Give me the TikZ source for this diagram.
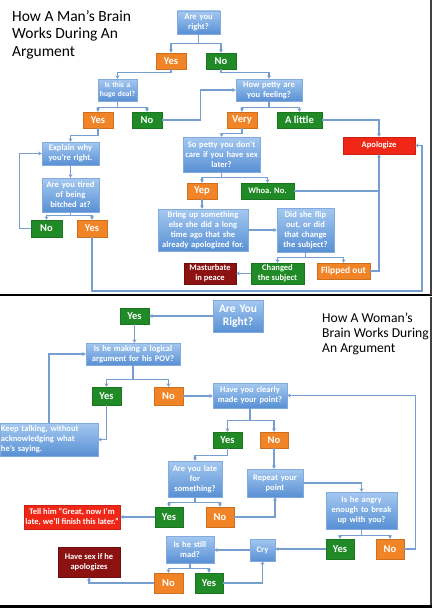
\documentclass[tikz,border=0pt]{standalone}
\usepackage{fontspec}
\setmainfont{Carlito}
\usepackage{tikz}
\usetikzlibrary{arrows.meta, positioning}
\definecolor{boxtop}{RGB}{164,200,240}
\definecolor{boxbot}{RGB}{88,144,212}
\definecolor{boxedge}{RGB}{130,170,220}
\definecolor{ansorange}{RGB}{240,132,38}
\definecolor{ansgreen}{RGB}{32,138,38}
\definecolor{ansred}{RGB}{240,38,22}
\definecolor{ansdark}{RGB}{140,18,18}
\definecolor{linkblue}{RGB}{118,158,208}
\tikzset{
  qbox/.style={draw=boxedge, top color=boxtop, bottom color=boxbot, text=white, align=center,
    inner xsep=1pt, inner ysep=1pt, font=\bfseries\fontsize{8.5}{10}\selectfont},
  ansbox/.style={text=white, inner sep=0pt, align=center, font=\bfseries\fontsize{10.5}{12}\selectfont},
  orangebox/.style={ansbox, fill=ansorange, draw=ansorange!85!black},
  greenbox/.style={ansbox, fill=ansgreen, draw=ansgreen!85!black},
  redbox/.style={ansbox, fill=ansred, draw=ansred!85!black},
  darkbox/.style={ansbox, fill=ansdark, draw=ansdark!80!black},
  small/.style={font=\bfseries\fontsize{8.5}{10}\selectfont},
  link/.style={draw=linkblue, line width=1.3pt, -{Stealth[length=3.5pt,width=4pt]}},
  bar/.style={draw=linkblue, line width=1.3pt},
}
\begin{document}
\begin{tikzpicture}[x=1pt, y=-1pt]
            \useasboundingbox (0,0) rectangle (436,610);
            \fill[white] (0,0) rectangle (436,610); %背景
            % 男
            \node[anchor=north west, align=left, inner sep=0pt, font=\fontsize{15.5}{17.5}\selectfont] (mantitle) at (12,10) {How A Man’s Brain\\Works During An\\Argument};
            \node[qbox, text width=41pt, minimum height=23pt] (q1) at (198.5,22.5) {Are you\\right?};
            \node[orangebox, minimum width=30pt, minimum height=16pt] (y1) at (171,61) {Yes};
            \node[greenbox, minimum width=30pt, minimum height=16pt] (n1) at (221,61) {No};
            \node[qbox, font=\bfseries\fontsize{7.6}{9.5}\selectfont, text width=37pt, minimum height=22pt] (q2) at (117.5,90) {Is this a\\huge deal?};
            \node[qbox, text width=64pt, minimum height=22pt] (q3) at (269,90) {How petty are\\you feeling?};
            \node[orangebox, minimum width=30pt, minimum height=16pt] (y2) at (98,120) {Yes};
            \node[greenbox, minimum width=30pt, minimum height=16pt] (n2) at (147,120) {No};
            \node[orangebox, minimum width=30pt, minimum height=16pt] (v1) at (242,120) {Very};
            \node[greenbox, minimum width=45pt, minimum height=16pt] (a1) at (299.5,120) {A little};
            \node[redbox, small, minimum width=72pt, minimum height=17pt] (ap) at (379,145.5) {Apologize};
            \node[qbox, text width=55pt, minimum height=23pt] (q4) at (70.5,153.5) {Explain why\\you’re right.};
            \node[qbox, text width=55pt, minimum height=34pt] (q5) at (70.5,195) {Are you tired\\of being\\bitched at?};
            \node[greenbox, minimum width=31pt, minimum height=17pt] (n3) at (46.5,228.5) {No};
            \node[orangebox, minimum width=30pt, minimum height=17pt] (y3) at (92,228.5) {Yes};
            \node[qbox, text width=75pt, minimum height=35pt] (q6) at (221.5,154.5) {So petty you don’t\\care if you have sex\\later?};
            \node[orangebox, minimum width=30pt, minimum height=16pt] (yp) at (202,191) {Yep};
            \node[greenbox, small, minimum width=53pt, minimum height=16pt] (wn) at (267.5,191) {Whoa. No.};
            \node[qbox, text width=88pt, minimum height=42pt] (q7) at (203,230) {Bring up something\\else she did a long\\time ago that she\\already apologized for.};
            \node[qbox, text width=55pt, minimum height=44pt] (q8) at (305.5,230) {Did she flip\\out, or did\\that change\\the subject?};
            \node[greenbox, small, minimum width=53pt, minimum height=21pt] (cs) at (277.5,273.5) {Changed\\the subject};
            \node[orangebox, font=\bfseries\fontsize{9.5}{11}\selectfont, minimum width=53pt, minimum height=16pt] (fo) at (343.5,271) {Flipped out};
            \node[darkbox, small, minimum width=52pt, minimum height=21pt] (mp) at (210,273.5) {Masturbate\\in peace};
            \draw[link] (q1.south) -- ++(0,9) -| (y1.north);
            \draw[link] (q1.south) -- ++(0,9) -| (n1.north);
            \draw[link] (y1.south) -- ++(0,3) -| (q2.north);
            \draw[link] (n1.south) -- ++(0,3) -| (q3.north);
            \draw[link] (q2.south) -- ++(0,6) -| (y2.north);
            \draw[link] (q2.south) -- ++(0,6) -| (n2.north);
            \draw[link] (n2.east) -- ++(38,0) |- (q3.west);
            \draw[link] (q3.south) -- ++(0,6) -| (v1.north);
            \draw[link] (q3.south) -- ++(0,6) -| (a1.north);
            \draw[link] (a1.east) -| (ap.north);
            \draw[link] (v1.south) -- ++(0,5) -| (q6.north);
            \draw[link] (y2.south) -- ++(0,7) -| (q4.north);
            \draw[link] (q4.south) -- (q5.north);
            \draw[link] (q5.south) -- ++(0,3) -| (n3.north);
            \draw[link] (q5.south) -- ++(0,3) -| (y3.north);
            \draw[link] (n3.west) -- ++(-11,0) |- (q4.west);
            \draw[link] (y3.south) |- (422,291) |- (ap.east); %ループ
            \draw[link] (q6.south) -- ++(0,5) -| (yp.north);
            \draw[link] (q6.south) -- ++(0,5) -| (wn.north);
            \draw[bar] (wn.east) -- (wn.east -| ap.south);
            \draw[link] (yp.south) -- (yp.south |- q7.north);
            \draw[link] (q7.east) -- (q8.west);
            \draw[link] (q8.south) -- ++(0,5) -| (cs.north);
            \draw[link] (q8.south) -- ++(0,5) -| (fo.north);
            \draw[link] (cs.west) -- (mp.east);
            \draw[link] (fo.east) -| (ap.south);
            % 女
            \node[anchor=north west, align=left, inner sep=0pt, font=\fontsize{13.6}{14.8}\selectfont] (womantitle) at (322,313) {How A Woman’s\\Brain Works During\\An Argument};
            \node[qbox, font=\bfseries\fontsize{11.5}{13}\selectfont, text width=48pt, minimum height=32pt] (r1) at (238,316) {Are You\\Right?};
            \node[greenbox, minimum width=29pt, minimum height=16pt] (gy1) at (134.5,316) {Yes};
            \node[qbox, text width=92pt, minimum height=22pt] (l1) at (133,354) {Is he making a logical\\argument for his POV?};
            \node[greenbox, minimum width=29pt, minimum height=18pt] (gy2) at (106.5,396) {Yes};
            \node[orangebox, minimum width=29pt, minimum height=18pt] (on1) at (168.5,396) {No};
            \node[qbox, text width=72pt, minimum height=25pt] (cm) at (250,395.5) {Have you clearly\\made your point?};
            \node[qbox, align=left, text width=96pt, minimum height=33pt] (kt) at (49,439.5) {Keep talking, without\\acknowledging what\\he’s saying.};
            \node[greenbox, minimum width=29pt, minimum height=16pt] (gy3) at (227.5,440) {Yes};
            \node[orangebox, minimum width=28pt, minimum height=16pt] (on2) at (274,440) {No};
            \node[qbox, text width=52pt, minimum height=36pt] (lt) at (195,479) {Are you late\\for\\something?};
            \node[qbox, text width=54pt, minimum height=28pt] (rp) at (275,483) {Repeat your\\point};
            \node[greenbox, minimum width=28pt, minimum height=20pt] (gy4) at (169,517) {Yes};
            \node[orangebox, minimum width=28pt, minimum height=20pt] (on3) at (220,517) {No};
            \node[redbox, small, minimum width=96pt, minimum height=24pt] (th) at (72,517) {Tell him “Great, now I’m\\late, we’ll finish this later.”};
            \node[qbox, text width=69pt, minimum height=37pt] (ag) at (361.5,510.5) {Is he angry\\enough to break\\up with you?};
            \node[greenbox, minimum width=28pt, minimum height=20pt] (gy5) at (340,549) {Yes};
            \node[orangebox, minimum width=28pt, minimum height=20pt] (on4) at (390,549) {No};
            \node[qbox, text width=23pt, minimum height=22pt] (cr) at (262.5,550) {Cry};
            \node[qbox, text width=46pt, minimum height=27pt] (sm) at (190,549.5) {Is he still\\mad?};
            \node[orangebox, minimum width=29pt, minimum height=20pt] (on5) at (168.5,583) {No};
            \node[greenbox, minimum width=28pt, minimum height=20pt] (gy6) at (209,583) {Yes};
            \node[darkbox, small, minimum width=62pt, minimum height=30pt] (hs) at (89,562) {Have sex if he\\apologizes};
            \draw[link] (r1.west) -- (r1.west -| gy1.east);
            \draw[link] (gy1.south) -- (gy1.south |- l1.north);
            \draw[link] (l1.south) -- ++(0,14) -| (gy2.north);
            \draw[link] (l1.south) -- ++(0,14) -| (on1.north);
            \draw[link] (on1.east) -- (on1.east -| cm.west);
            \draw[link] (gy2.south) |- (kt.east);
            \draw[link] (kt.north) |- (l1.west);
            \draw[link] (cm.south) -- ++(0,12) -| (gy3.north);
            \draw[link] (cm.south) -- ++(0,12) -| (on2.north);
            \draw[link] (gy3.south) -- ++(0,7) -| (lt.north);
            \draw[link] (on2.south) -- (on2.south |- rp.north);
            \draw[link] (lt.south) -- ++(0,5) -| (gy4.north);
            \draw[link] (lt.south) -- ++(0,5) -| (on3.north);
            \draw[link] (gy4.west) -- (th.east);
            \draw[link] (on3.east) -| (rp.south);
            \draw[link] (rp.east) -| (ag.north);
            \draw[link] (ag.south) -- ++(0,6) -| (gy5.north);
            \draw[link] (ag.south) -- ++(0,6) -| (on4.north);
            \draw[link] (on4.east) -- ++(11,0) |- (cm.east); %ループ
            \draw[link] (gy5.west) -- (gy5.west -| cr.east);
            \draw[link] (cr.west) -- (cr.west -| sm.east);
            \draw[link] (sm.south) -- ++(0,5) -| (on5.north);
            \draw[link] (sm.south) -- ++(0,5) -| (gy6.north);
            \draw[link] (gy6.east) -| (cr.south);
            \draw[link] (on5.west) -| (hs.south);
            % 枠
            \draw[line width=2.5pt] (0,295) -- (432,295);
            \draw[line width=2pt, black!75] (431,0) -- (431,295);
            \draw[line width=2pt, black!75] (431,297) -- (431,606);
            \draw[line width=3pt] (0,606.5) -- (432,606.5);
\end{tikzpicture}
\end{document}
